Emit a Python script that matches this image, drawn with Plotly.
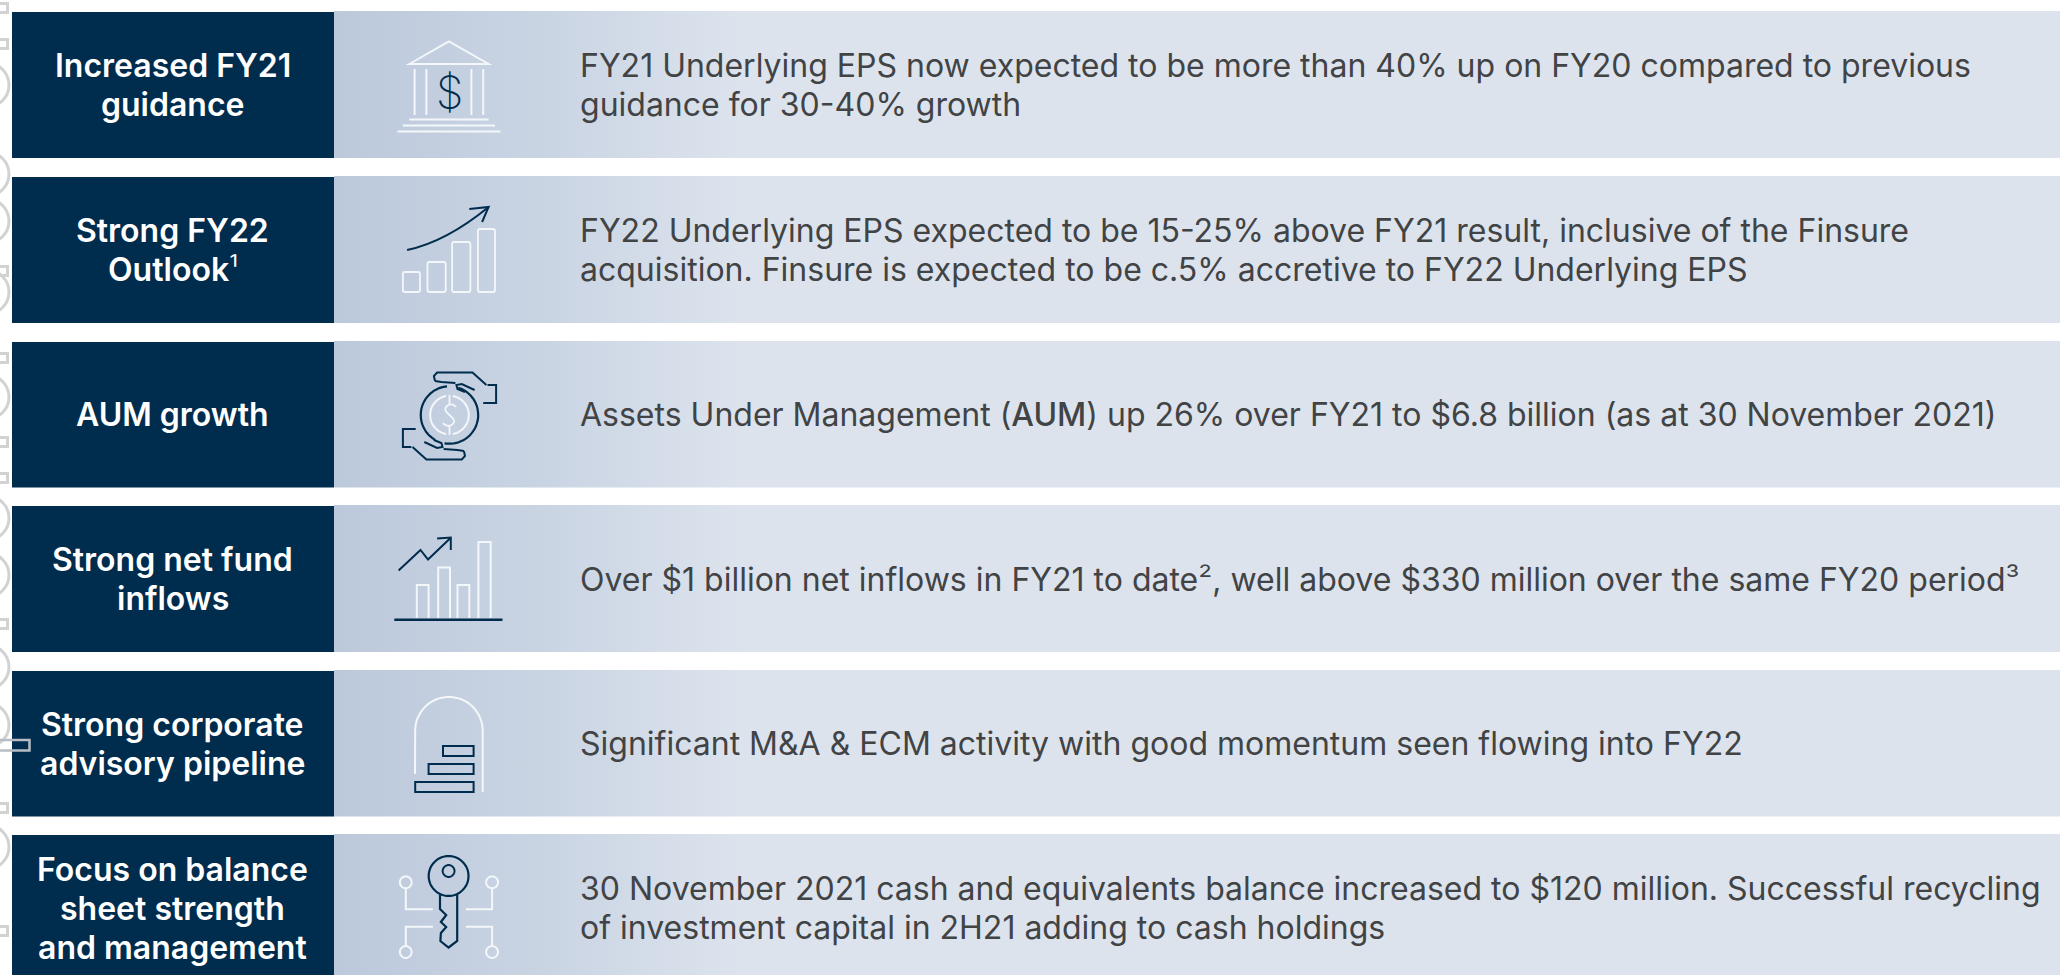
import math
import plotly.graph_objects as go

SUP = '<span style="font-weight:300">%s</span>'

# ---- content ----
headings = [
    "Increased FY21<br>guidance",
    "Strong FY22<br>Outlook" + SUP % "¹",
    "AUM growth",
    "Strong net fund<br>inflows",
    "Strong corporate<br>advisory pipeline",
    "Focus on balance<br>sheet strength<br>and management",
]
bodies = [
    "FY21 Underlying EPS now expected to be more than 40% up on FY20 compared to previous<br>guidance for 30-40% growth",
    "FY22 Underlying EPS expected to be 15-25% above FY21 result, inclusive of the Finsure<br>acquisition. Finsure is expected to be c.5% accretive to FY22 Underlying EPS",
    "Assets Under Management (<span style=\"font-weight:500\">AUM</span>) up 26% over FY21 to $6.8 billion (as at 30 November 2021)",
    "Over $1 billion net inflows in FY21 to date" + SUP % "²" + ", well above $330 million over the same FY20 period" + SUP % "³",
    "Significant M&amp;A &amp; ECM activity with good momentum seen flowing into FY22",
    "30 November 2021 cash and equivalents balance increased to $120 million. Successful recycling<br>of investment capital in 2H21 adding to cash holdings",
]
row_tops = [11, 176, 341, 505, 670, 834]
row_bottoms = [158, 323, 487.5, 652, 816.5, 975]
label_centres = [85, 250, 414.5, 579, 743.5, 908]
body_centres = [85, 250, 414.5, 579, 743.5, 908]
LINE_STEP = 39

NAVY = "#002C4D"
WHITE = "#F4F7FA"
GREY = "#D2D2D2"
TEXT = "#414345"
W, H = 2060, 975
S = 3 / 2.8   # horizontal factor for icon geometry
PANEL_X = 334

fig = go.Figure()
shapes = []


def pts(points, close=False):
    s = "M" + " L".join(f"{x * S:.1f},{y:.1f}" for x, y in points)
    return s + (" Z" if close else "")


def arc(cx, cy, r, a0, a1, n=40):
    return [
        (cx + r * math.cos(math.radians(a0 + (a1 - a0) * i / n)),
         cy + r * S * math.sin(math.radians(a0 + (a1 - a0) * i / n)))
        for i in range(n + 1)
    ]


def path(d, color=WHITE, width=2.0, fill=None):
    shapes.append(dict(type="path", path=d, xref="x", yref="y", layer="above",
                       line=dict(color=color, width=width),
                       fillcolor=fill or "rgba(0,0,0,0)"))


def poly(points, color=WHITE, width=2.0, close=False):
    path(pts(points, close), color, width)


def ring(cx, cy, r, color=WHITE, width=2.0):
    poly(arc(cx, cy, r, 0, 360, 60), color, width, True)


def X(x):
    return round(x * S, 1)


# ---- grey page ornaments poking in at the left edge ----
ornament_arcs = [85, 174, 221, 292, 397, 518, 575, 667, 725, 847]
ornament_tabs = [8, 44, 271, 358, 442, 478, 624, 808, 931]
for c in ornament_arcs:
    for cx_end, r in ((9, 22), (3, 15)):
        cx = cx_end - 22
        shapes.append(dict(type="circle", xref="x", yref="y", layer="below",
                           x0=cx - r, x1=cx + r, y0=c - r, y1=c + r,
                           line=dict(color=GREY, width=3),
                           fillcolor="rgba(0,0,0,0)"))
for c in ornament_tabs:
    shapes.append(dict(type="rect", xref="x", yref="y", layer="below",
                       x0=-4, x1=7.5, y0=c - 4.5, y1=c + 4.5,
                       line=dict(color=GREY, width=3),
                       fillcolor="rgba(0,0,0,0)"))

# ---- row panels ----
for top, bottom in zip(row_tops, row_bottoms):
    fig.add_trace(go.Scatter(
        x=[PANEL_X, W, W, PANEL_X, PANEL_X], y=[top, top, bottom, bottom, top],
        mode="lines", line=dict(width=0), fill="toself", hoverinfo="skip",
        showlegend=False,
        fillgradient=dict(type="horizontal",
                          colorscale=[[0, "#BCC9DB"], [0.12, "#C9D4E3"],
                                      [0.235, "#DCE3ED"], [1, "#DCE3ED"]]),
    ))
    shapes.append(dict(type="rect", xref="x", yref="y", layer="above",
                       x0=12, x1=PANEL_X, y0=top + 1, y1=bottom,
                       line=dict(width=0), fillcolor=NAVY))

shapes.append(dict(type="rect", xref="x", yref="y", layer="above",
                   x0=-4, x1=29.5, y0=740, y1=750.5,
                   line=dict(color="#B7BDC3", width=2.5),
                   fillcolor="rgba(0,0,0,0)"))

# ---- icon 1: bank ----
poly([(382, 64), (419, 41.5), (456, 64)], close=True)
for x in (387, 398, 440, 451):
    poly([(x, 69), (x, 115)])
for x0, x1, y in ((382, 456, 119.5), (376, 462, 125.5), (371, 467, 131.5)):
    poly([(x0, y), (x1, y)])

# ---- icon 2: rising bars ----
for x0, x1, y0 in ((376, 392, 272), (399, 416, 262), (422, 439, 242), (446, 462, 229)):
    a, b = X(x0), X(x1)
    d = (f"M{a+2},{y0} L{b-2},{y0} Q{b},{y0} {b},{y0+2} L{b},290 Q{b},292 {b-2},292 "
         f"L{a+2},292 Q{a},292 {a},290 L{a},{y0+2} Q{a},{y0} {a+2},{y0} Z")
    path(d, WHITE, 1.8)
path(f"M{X(380)},250 Q{X(416)},242 {X(456)},207", NAVY, 2)
poly([(438, 209), (456, 207), (450, 222)], NAVY, 2)

# ---- icon 3: hands and coin ----
cx3, cy3 = 419.5, 415
poly(arc(cx3, cy3, 26.8, -72, 100), NAVY, 2.2)
poly(arc(cx3, cy3, 26.8, 120, 265), NAVY, 2.2)
poly(arc(cx3, cy3, 18, -80, 80), WHITE, 2)
poly(arc(cx3, cy3, 18, 100, 260), WHITE, 2)
path(f"M{X(cx3+6)},{cy3-8} Q{X(cx3+3)},{cy3-12} {X(cx3-1)},{cy3-10} Q{X(cx3-7)},{cy3-6} {X(cx3-1)},{cy3-1} "
     f"L{X(cx3+3)},{cy3+3} Q{X(cx3+7)},{cy3+8} {X(cx3)},{cy3+11} Q{X(cx3-4)},{cy3+11} {X(cx3-6)},{cy3+8}", WHITE, 1.8)
poly([(cx3, cy3 - 20), (cx3, cy3 - 11)], WHITE, 1.8)
poly([(cx3, cy3 + 11), (cx3, cy3 + 20)], WHITE, 1.8)
hand = [(406, 381), (405, 376), (408, 372.5), (441, 372.5), (454, 385)]
finger = [(406, 381), (412, 382), (425, 383)]
finger2 = [(443, 390), (431, 384), (426, 385), (427, 389), (434, 392)]
cuff = [(451, 403), (463, 403), (463, 385), (455, 385)]
for shape_pts in (hand, finger, finger2, cuff):
    poly(shape_pts, NAVY, 2)
    poly([(2 * cx3 - x, 2 * 416 - y) for x, y in shape_pts], NAVY, 2)

# ---- icon 4: bars and arrow ----
for x0, x1, y0 in ((389, 400, 585), (409, 420, 567.5), (427, 438, 585), (446.5, 458, 542)):
    poly([(x0, 618), (x0, y0), (x1, y0), (x1, 618)], WHITE, 2)
poly([(368, 619.7), (469, 619.7)], NAVY, 2.5)
poly([(372, 570.5), (392.5, 550), (399.5, 559.5), (420.5, 538)], NAVY, 2)
poly([(408, 538.5), (420.7, 537.5), (420.7, 550)], NAVY, 2)

# ---- icon 5: arch and pipeline bars ----
poly([(387.3, 774)] + arc(419, 730.7, 31.5, 180, 360) + [(450.5, 792)], WHITE, 2)
for x0, y0, y1 in ((413.5, 746, 756), (400, 764, 774), (387.5, 782, 792)):
    shapes.append(dict(type="rect", xref="x", yref="y", layer="above",
                       x0=X(x0), x1=X(442), y0=y0, y1=y1,
                       line=dict(color=NAVY, width=2),
                       fillcolor="rgba(0,0,0,0)"))

# ---- icon 6: key and circuit ----
ring(418.7, 876, 18.6, NAVY, 2.2)
ring(418.7, 871, 5.5, NAVY, 2)
poly([(410.7, 895), (410.7, 909), (416.5, 915), (411.5, 922), (416.5, 927), (411.5, 933),
      (411, 941), (418.7, 947.5), (426.7, 941), (426.7, 895)], NAVY, 2.2)
for cx, cy in ((378.7, 882.3), (459.3, 882.3), (378.7, 952), (459.3, 952)):
    ring(cx, cy, 5.5, WHITE, 2)
poly([(378.7, 888), (378.7, 909.3), (404, 909.3)])
poly([(459.3, 888), (459.3, 909.3), (434.7, 909.3)])
poly([(378.7, 946), (378.7, 926.7), (404, 926.7)])
poly([(459.3, 946), (459.3, 926.7), (434.7, 926.7)])

# ---- text: one annotation per line so the line spacing matches ----
annotations = []


def lines(text, x, yc, xanchor, font):
    parts = text.split("<br>")
    for i, part in enumerate(parts):
        y = yc + (i - (len(parts) - 1) / 2) * LINE_STEP
        annotations.append(dict(x=x, y=y, text=part, xref="x", yref="y", xanchor=xanchor,
                                yanchor="middle", align=xanchor, showarrow=False, font=font))


head_font = dict(family="Inter", size=32, color="#FFFFFF", weight=600)
body_font = dict(family="Inter", size=32, color=TEXT, weight=400)
for text, yc in zip(headings, label_centres):
    lines(text, 172.5, yc, "center", head_font)
for text, yc in zip(bodies, body_centres):
    lines(text, 578, yc, "left", body_font)
annotations.append(dict(x=449.5, y=92, text="$", xref="x", yref="y", xanchor="center",
                        yanchor="middle", showarrow=False,
                        font=dict(family="Inter", size=44, color=NAVY, weight=200)))

fig.update_layout(
    width=W, height=H, autosize=False,
    margin=dict(l=0, r=0, t=0, b=0, pad=0),
    paper_bgcolor="#FFFFFF", plot_bgcolor="#FFFFFF",
    xaxis=dict(range=[0, W], visible=False, fixedrange=True),
    yaxis=dict(range=[H, 0], visible=False, fixedrange=True),
    showlegend=False,
    shapes=shapes,
    annotations=annotations,
)
fig.write_html("out.html", config=dict(displayModeBar=False, responsive=False),
               post_script="document.body.style.margin='0';document.body.style.overflow='hidden';")
